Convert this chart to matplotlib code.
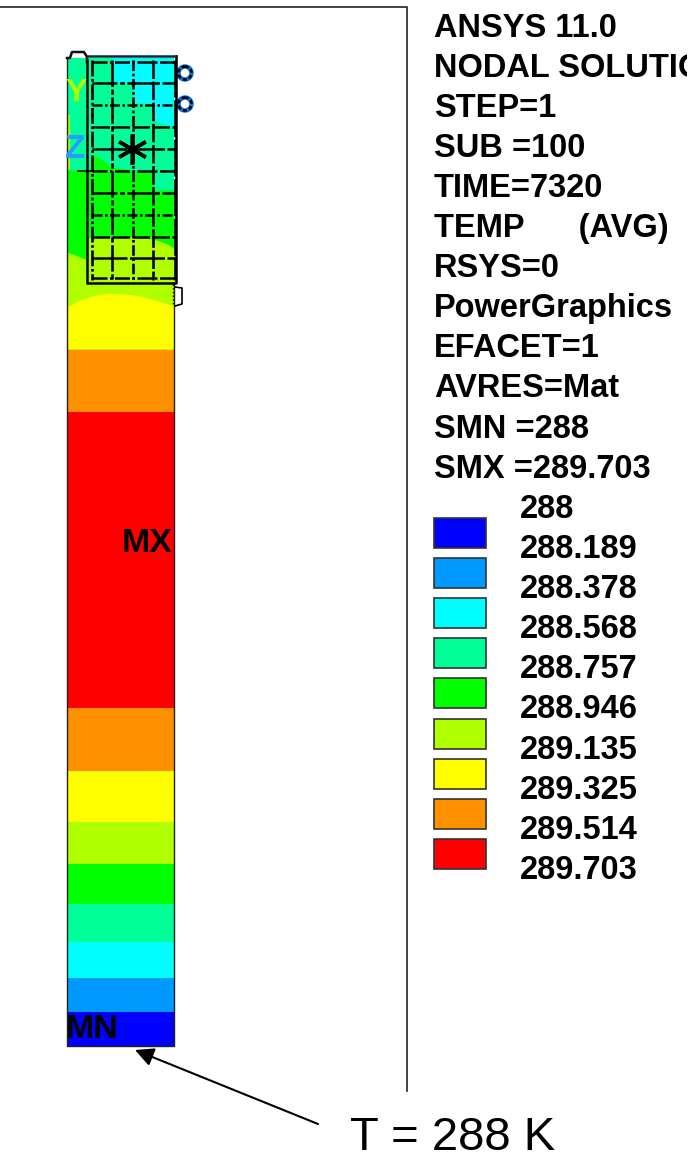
import matplotlib
matplotlib.use('Agg')
from matplotlib import pyplot as plt
from matplotlib.patches import Rectangle, Circle

# legend
band_colors = ['#0000ff', '#0099ff', '#00ffff', '#00ff99', '#00ff00', '#b0ff00', '#ffff00', '#ff9000', '#ff0000']
level_labels = ['288', '288.189', '288.378', '288.568', '288.757', '288.946', '289.135', '289.325', '289.514', '289.703']
header_lines = ['ANSYS 11.0', 'NODAL SOLUTION', 'STEP=1', 'SUB =100', 'TIME=7320', 'TEMP      (AVG)', 'RSYS=0',
                'PowerGraphics', 'EFACET=1', 'AVRES=Mat', 'SMN =288', 'SMX =289.703']

# straight bands in the lower part of the column: (top, bottom, colour index)
flat_tops = [1012, 978, 942, 904, 864, 822, 771, 708, 412, 349]
flat_bottoms = [1046, 1012, 978, 942, 904, 864, 822, 771, 708, 412]
flat_index = [0, 1, 2, 3, 4, 5, 6, 7, 8, 7]

# curved contours in the upper part of the column
yellow_x = [67, 80, 95, 110, 125, 140, 155, 174]
yellow_y = [307, 300, 295, 293, 294, 296, 300, 306]
lime_x = [67, 75, 87, 88, 93, 120, 150, 165, 174]
lime_y = [252, 255, 260, 238, 237, 237, 238, 243, 248]
green_x = [67, 90, 91, 100, 112, 133, 153, 154, 174]
green_y = [170, 170, 155, 158, 167, 170, 172, 190, 190]
cyan_x = [112, 113, 133, 134, 153, 154, 173]
cyan_y = [58, 82, 82, 103, 103, 120, 127]

# mesh lines of the inset part
mesh_x = [92, 112, 133, 153, 175]
mesh_y = [62, 83, 105, 127, 149, 171, 193, 215, 237, 258, 278]
mesh_style = [(0, (6, 1, 1, 1)), (0, (10, 1, 2, 1)), (0, (4, 1, 1, 1)), (0, (7, 1)), (0, (14, 1))]

fig = plt.figure(figsize=(6.93, 11.54), dpi=100)
ax = fig.add_axes([0, 0, 1, 1])
ax.set_xlim(0, 693)
ax.set_ylim(1154, 0)
ax.axis('off')
plt.rcParams['font.family'] = ['Liberation Sans', 'DejaVu Sans']

# frame of the plot window
ax.plot([0, 407, 407], [7, 7, 1091], color='#222222', lw=1.2)

# column bands
for t, b, i in zip(flat_tops, flat_bottoms, flat_index):
    ax.fill_between([67, 174], t, b, color=band_colors[i], lw=0)
ax.fill_between([67, 174], 58, 349, color=band_colors[3], lw=0)
ax.fill_between(green_x, green_y, 349, color=band_colors[4], lw=0)
ax.fill_between([67, 70], 115, 170, color=band_colors[5], lw=0)
ax.fill_between(lime_x, lime_y, 349, color=band_colors[5], lw=0)
ax.fill_between(yellow_x, yellow_y, 349, color=band_colors[6], lw=0)
ax.fill_between(cyan_x, 58, cyan_y, color=band_colors[2], lw=0)

# column outline
ax.plot([67, 67, 174, 174], [58, 1046, 1046, 284], color='#222222', lw=1)
ax.plot([67, 70, 72, 84, 87, 87], [58, 58, 52, 52, 57, 62], color='#111111', lw=1.8)

# inset part, mesh is drawn broken like in the screenshot
for i, x in enumerate(mesh_x):
    ax.plot([x, x], [60, 280], color='black', lw=1.9, ls=mesh_style[i])
for j, y in enumerate(mesh_y):
    ax.plot([92, 175], [y, y], color='black', lw=1.8, ls=mesh_style[j % 5])
ax.plot([87, 87, 176, 176], [60, 283, 283, 56], color='black', lw=1.8)
ax.plot([88, 176], [56, 56], color='#0a2a40', lw=1.8)
ax.plot([78, 92], [171, 171], color='black', lw=1.2)
ax.plot([175, 182, 182, 175], [287, 288, 304, 306], color='black', lw=1.2)
ax.plot([173, 173], [284, 306], color='black', lw=1, ls=':')

# small rings at the top right
for yc in [73, 104]:
    ax.add_patch(Circle((185, yc), 6.5, fc='white', ec='#1070d0', lw=3.2))
    ax.add_patch(Circle((185, yc), 6.5, fc='none', ec='black', lw=1.8, ls=(0, (1.5, 1))))

# coordinate triad
ax.plot([132], [149], marker=(6, 2, 0), ms=22, color='black', mew=2.6)
ax.text(76, 93, 'Y', color='#b0ff00', fontsize=23, fontweight='bold', ha='center', va='center')
ax.text(75, 149, 'Z', color='#2a9bff', fontsize=24, fontweight='bold', ha='center', va='center')

ax.text(173, 543, 'MX', fontsize=24.5, fontweight='bold', ha='right', va='center')
ax.text(66, 1029, 'MN', fontsize=24.5, fontweight='bold', ha='left', va='center')

# right hand text block
for i, s in enumerate(header_lines):
    ax.text(434, 37 + 40.05 * i, s, fontsize=23.5, fontweight='bold', ha='left', va='baseline')
ax.add_patch(Rectangle((687, 0), 6, 1154, fc='white', ec='none', zorder=5))

for i, c in enumerate(band_colors):
    ax.add_patch(Rectangle((434, 518 + 40.1 * i), 52, 30, fc=c, ec='#333333', lw=1.2))
for i, s in enumerate(level_labels):
    ax.text(520, 518 + 40.1 * i, s, fontsize=23.5, fontweight='bold', ha='left', va='baseline')

# boundary condition note
ax.annotate('', xy=(135, 1050), xytext=(318, 1124),
            arrowprops=dict(arrowstyle='-|>', color='black', lw=1.5, mutation_scale=28, shrinkA=0, shrinkB=0))
ax.text(350, 1150, 'T = 288 K', fontsize=34, ha='left', va='baseline')

fig.savefig('out.png', dpi=100)
